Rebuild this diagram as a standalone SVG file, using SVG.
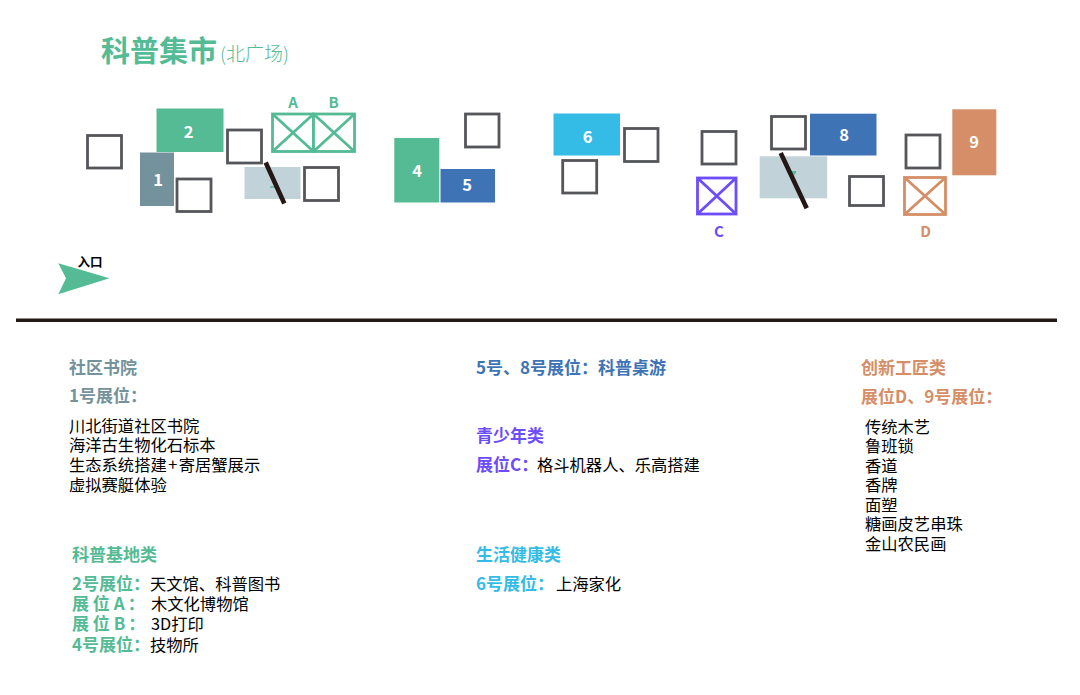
<svg xmlns="http://www.w3.org/2000/svg" width="1080" height="695" viewBox="0 0 1080 695">
<style>
text{font-family:"Noto Sans CJK SC","Noto Sans",sans-serif}
.sq{fill:#fff;stroke:#54565a;stroke-width:2.8}
.n{fill:#fff;font-size:16.5px;font-weight:700;text-anchor:middle}
.h{font-size:17px;font-weight:700}
.b{font-size:16.3px;fill:#000}
.x{fill:#fff;stroke-width:2.8}
.x2{fill:none;stroke-width:2.8}
.lab{font-size:15px;font-weight:700;text-anchor:middle}
.slash{stroke:#231815;stroke-width:4.6;fill:none}
</style>
<rect width="1080" height="695" fill="#fff"/>
<g id="title"><text x="101" y="62" font-size="29" font-weight="700" fill="#54bb95">科普集市</text><text x="220" y="60.500" font-size="19" font-weight="300" fill="#54bb95">(北广场)</text></g>
<g id="booths">
<g id="s1"><rect class="sq" x="87.500" y="135.500" width="34" height="32.500"/></g>
<g id="b2"><rect x="156.500" y="108.500" width="67" height="43.500" fill="#54bb95"/><text class="n" x="188.500" y="137.500">2</text></g>
<g id="b1"><rect x="140" y="152.500" width="34" height="53.500" fill="#74929b"/><text class="n" x="158" y="185.500">1</text></g>
<g id="s2"><rect class="sq" x="177" y="179" width="34" height="32.500"/></g>
<g id="s3"><rect class="sq" x="227.500" y="130" width="34" height="33"/></g>
<g id="bA"><rect class="x" x="272.500" y="114" width="41" height="37.500" stroke="#54bb95"/><path class="x2" d="M272.500 114L313.500 151.500M313.500 114L272.500 151.500" stroke="#54bb95"/><text class="lab" x="293" y="108" fill="#54bb95">A</text></g>
<g id="bB"><rect class="x" x="313.500" y="114" width="41" height="37.500" stroke="#54bb95"/><path class="x2" d="M313.500 114L354.500 151.500M354.500 114L313.500 151.500" stroke="#54bb95"/><text class="lab" x="333.500" y="108" fill="#54bb95">B</text></g>
<g id="b3"><rect x="244.500" y="167" width="56" height="32" fill="#c1d2d9"/><path d="M270 187h6M274 179l1 2" stroke="#54bb95" stroke-width="1.500" fill="none"/><path class="slash" d="M265.700 162.500L284.300 203.500"/></g>
<g id="s4"><rect class="sq" x="304.500" y="167.500" width="34" height="33"/></g>
<g id="b4"><rect x="394.300" y="138" width="45" height="64.500" fill="#54bb95"/><text class="n" x="417" y="176.500">4</text></g>
<g id="b5"><rect x="440.500" y="169" width="54.500" height="33.500" fill="#3e74b5"/><text class="n" x="467" y="191">5</text></g>
<g id="s5"><rect class="sq" x="465.500" y="114" width="33.500" height="33"/></g>
<g id="b6"><rect x="553.500" y="113.500" width="66.500" height="42" fill="#35bce6"/><text class="n" x="587.500" y="142.500">6</text></g>
<g id="s6"><rect class="sq" x="624.500" y="128.500" width="33.500" height="33"/></g>
<g id="s7"><rect class="sq" x="562.700" y="160.500" width="34" height="32.500"/></g>
<g id="s8"><rect class="sq" x="702" y="131.500" width="34" height="32.500"/></g>
<g id="bC"><rect class="x" x="697.500" y="178" width="38.500" height="36" stroke="#6c4cfb"/><path class="x2" d="M697.500 178L736 214M736 178L697.500 214" stroke="#6c4cfb"/><text class="lab" x="719" y="237" fill="#6c4cfb">C</text></g>
<g id="s9"><rect class="sq" x="771.500" y="116.500" width="34" height="32.500"/></g>
<g id="b8"><rect x="810" y="113.700" width="66.500" height="41.800" fill="#3e74b5"/><text class="n" x="844" y="140.500">8</text></g>
<g id="b7"><rect x="759.700" y="156.300" width="67.500" height="42" fill="#c1d2d9"/><path d="M791 171l5.500 0-2 4.500z" fill="#54bb95"/><path class="slash" d="M780.700 153L806.700 208.300"/></g>
<g id="s10"><rect class="sq" x="849.500" y="176.500" width="34" height="29"/></g>
<g id="s11"><rect class="sq" x="906" y="135" width="34" height="33"/></g>
<g id="bD"><rect class="x" x="904.500" y="177.500" width="41" height="37" stroke="#d58e67"/><path class="x2" d="M904.500 177.500L945.500 214.500M945.500 177.500L904.500 214.500" stroke="#d58e67"/><text class="lab" x="925.500" y="237" fill="#d58e67">D</text></g>
<g id="b9"><rect x="952.300" y="109.300" width="44" height="66" fill="#d58e67"/><text class="n" x="974" y="147.500">9</text></g>
</g>
<g id="entrance"><path d="M58.300 263.300L109.500 278.300L58.300 294.300L66 278.300Z" fill="#54bb95"/><text x="77.500" y="267" font-size="12.500" font-weight="700" fill="#000">入口</text></g>
<g id="divider"><path d="M16 320.200H1057" stroke="#231815" stroke-width="3.500" fill="none"/></g>
<g id="legend">
<text class="h" x="69" y="373.500" fill="#74929b">社区书院</text>
<text class="h" x="69" y="401.500" fill="#74929b">1号展位：</text>
<text class="b" x="69" y="432">川北街道社区书院</text>
<text class="b" x="69" y="451">海洋古生物化石标本</text>
<text class="b" x="69" y="471">生态系统搭建<tspan dx="1.500">+</tspan><tspan dx="1.500">寄居蟹展示</tspan></text>
<text class="b" x="69" y="490.500">虚拟赛艇体验</text>
<text class="h" x="72" y="560.500" fill="#54bb95">科普基地类</text>
<text class="h" x="72" y="589.500" fill="#54bb95">2号展位：</text><text class="b" x="150" y="589.500">天文馆、科普图书</text>
<text class="h" x="72" y="609.500" fill="#54bb95" xml:space="preserve">展 位 A<tspan dx="3">：</tspan></text><text class="b" x="151" y="609.500">木文化博物馆</text>
<text class="h" x="72" y="629.500" fill="#54bb95" xml:space="preserve">展 位 B<tspan dx="3">：</tspan></text><text class="b" x="151" y="629.500">3D打印</text>
<text class="h" x="72" y="650.500" fill="#54bb95">4号展位：</text><text class="b" x="150" y="650.500">技物所</text>
<text class="h" x="476" y="373.500" fill="#3e74b5">5号、8号展位：科普桌游</text>
<text class="h" x="476" y="441.500" fill="#6c4cfb">青少年类</text>
<text class="h" x="476" y="470.500" fill="#6c4cfb">展位C：</text><text class="b" x="537" y="470.500">格斗机器人、乐高搭建</text>
<text class="h" x="476" y="560.500" fill="#35bce6">生活健康类</text>
<text class="h" x="476" y="589.500" fill="#35bce6">6号展位：</text><text class="b" x="556" y="589.500">上海家化</text>
<text class="h" x="861" y="373.500" fill="#d58e67">创新工匠类</text>
<text class="h" x="861" y="402.500" fill="#d58e67">展位D、9号展位：</text>
<text class="b" x="865" y="433">传统木艺</text>
<text class="b" x="865" y="452">鲁班锁</text>
<text class="b" x="865" y="472">香道</text>
<text class="b" x="865" y="491">香牌</text>
<text class="b" x="865" y="511">面塑</text>
<text class="b" x="865" y="530">糖画皮艺串珠</text>
<text class="b" x="865" y="550">金山农民画</text>
</g>
</svg>
